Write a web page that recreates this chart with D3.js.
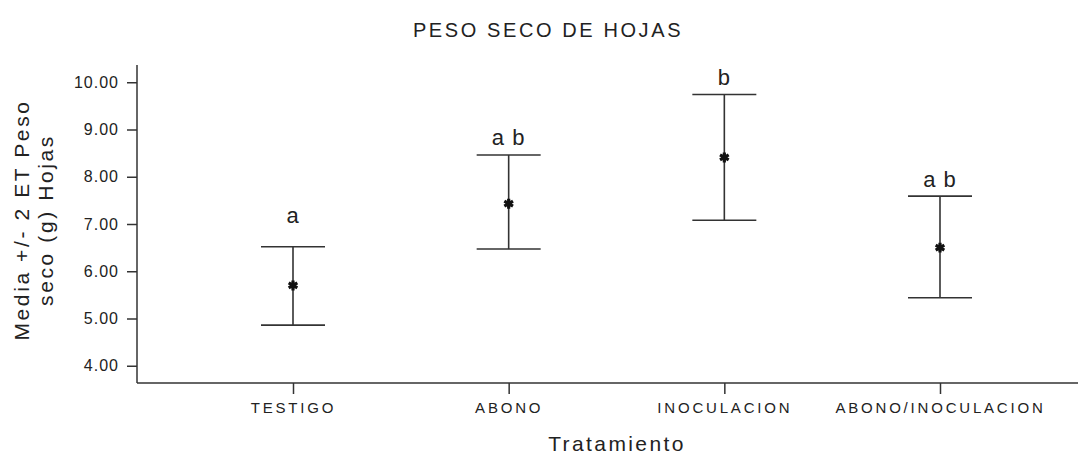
<!DOCTYPE html>
<html>
<head>
<meta charset="utf-8">
<script src="https://cdn.jsdelivr.net/npm/d3@7"></script>
<style>
  body { margin: 0; background: #fff; }
  svg text { font-family: Arial, "Liberation Sans", sans-serif; fill: #222; }
  .axis path, .axis line { stroke: #333; stroke-width: 1.5; }
</style>
</head>
<body>
<div id="chart"></div>
<script>
var categories = ["TESTIGO", "ABONO", "INOCULACION", "ABONO/INOCULACION"];
var means = [5.70, 7.43, 8.41, 6.50];
var lower = [4.86, 6.47, 7.08, 5.44];
var upper = [6.52, 8.46, 9.74, 7.59];
var letters = ["a", "a b", "b", "a b"];
var letterAt = [7.02, 8.67, 9.94, 7.78];
var yTicks = [4, 5, 6, 7, 8, 9, 10];

var width = 1084, height = 458;
var plotLeft = 137, plotRight = 1078, plotTop = 65, plotBottom = 383;

var svg = d3.select("#chart").append("svg")
    .attr("width", width)
    .attr("height", height);

var x = d3.scalePoint().domain(categories).range([293, 940]);
var y = d3.scaleLinear().domain([5, 10]).range([318.5, 82.25]);

// title
svg.append("text")
    .attr("x", 548)
    .attr("y", 37)
    .attr("text-anchor", "middle")
    .style("font-size", "20px")
    .style("letter-spacing", "2.6px")
    .text("PESO SECO DE HOJAS");

// y axis
var yAxis = svg.append("g")
    .attr("class", "axis")
    .attr("transform", "translate(" + plotLeft + ",0)")
    .call(d3.axisLeft(y).tickValues(yTicks).tickSize(10).tickPadding(8)
      .tickFormat(d3.format(".2f")).tickSizeOuter(0));
yAxis.select(".domain").remove();
yAxis.selectAll("text")
    .style("font-size", "16px")
    .style("letter-spacing", "1px")
    .style("font-family", "Arial, sans-serif");
svg.append("line")
    .attr("x1", plotLeft).attr("x2", plotLeft)
    .attr("y1", plotTop).attr("y2", plotBottom)
    .attr("stroke", "#333").attr("stroke-width", 1.5);

// x axis
var xAxis = svg.append("g")
    .attr("class", "axis")
    .attr("transform", "translate(0," + plotBottom + ")")
    .call(d3.axisBottom(x).tickSize(11).tickPadding(8).tickSizeOuter(0));
xAxis.select(".domain").remove();
xAxis.selectAll("text")
    .style("font-size", "15px")
    .style("letter-spacing", "2.8px")
    .style("font-family", "Arial, sans-serif");
svg.append("line")
    .attr("x1", plotLeft).attr("x2", plotRight)
    .attr("y1", plotBottom).attr("y2", plotBottom)
    .attr("stroke", "#333").attr("stroke-width", 1.5);

// axis titles
svg.append("text")
    .attr("transform", "translate(617,451)")
    .attr("text-anchor", "middle")
    .style("font-size", "21px")
    .style("letter-spacing", "2.4px")
    .text("Tratamiento");

var yt = svg.append("text")
    .attr("transform", "translate(29,220) rotate(-90)")
    .attr("text-anchor", "middle")
    .style("font-size", "21px")
    .style("letter-spacing", "2.6px");
yt.append("tspan").attr("x", 0).attr("dy", 0).text("Media +/- 2 ET Peso");
yt.append("tspan").attr("x", 0).attr("dy", 24).text("seco (g) Hojas");

// error bars
var bars = svg.append("g").selectAll("g")
    .data(categories)
  .enter().append("g");

bars.append("line")
    .attr("x1", function(d) { return x(d); })
    .attr("x2", function(d) { return x(d); })
    .attr("y1", function(d, i) { return y(upper[i]); })
    .attr("y2", function(d, i) { return y(lower[i]); })
    .attr("stroke", "#333").attr("stroke-width", 1.6);

bars.append("line")
    .attr("x1", function(d) { return x(d) - 32; })
    .attr("x2", function(d) { return x(d) + 32; })
    .attr("y1", function(d, i) { return y(upper[i]); })
    .attr("y2", function(d, i) { return y(upper[i]); })
    .attr("stroke", "#333").attr("stroke-width", 1.6);

bars.append("line")
    .attr("x1", function(d) { return x(d) - 32; })
    .attr("x2", function(d) { return x(d) + 32; })
    .attr("y1", function(d, i) { return y(lower[i]); })
    .attr("y2", function(d, i) { return y(lower[i]); })
    .attr("stroke", "#333").attr("stroke-width", 1.6);

bars.append("path")
    .attr("transform", function(d, i) { return "translate(" + x(d) + "," + y(means[i]) + ")"; })
    .attr("d", d3.symbol().type(d3.symbolAsterisk).size(70))
    .attr("stroke", "#111").attr("stroke-width", 3.2).attr("fill", "#111");

bars.append("text")
    .attr("x", function(d) { return x(d); })
    .attr("y", function(d, i) { return y(letterAt[i]); })
    .attr("text-anchor", "middle")
    .style("font-size", "22px")
    .style("letter-spacing", "1px")
    .text(function(d, i) { return letters[i]; });
</script>
</body>
</html>
